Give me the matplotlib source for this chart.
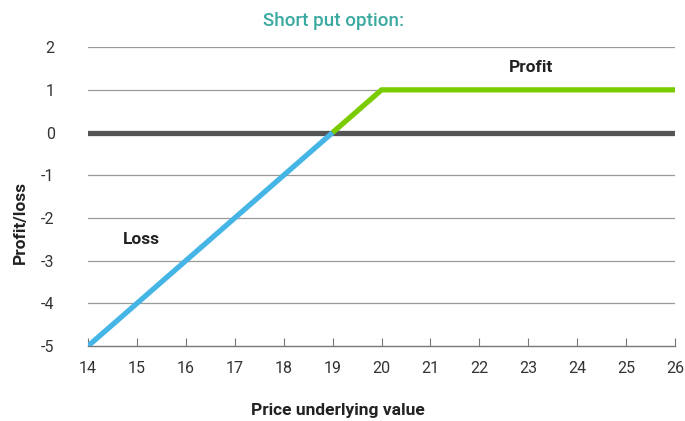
import matplotlib.pyplot as plt

plt.rcParams['font.family'] = ['Roboto', 'DejaVu Sans']
plt.rcParams['axes.unicode_minus'] = False

# payoff of a short put
loss_x = [14, 19]
loss_y = [-5, 0]
profit_x = [19, 20, 26]
profit_y = [0, 1, 1]
x_ticks = list(range(14, 27))
y_ticks = list(range(-5, 3))

blue = '#45b5e5'
green = '#7acc00'

fig = plt.figure(figsize=(6.85, 4.21), dpi=100)
ax = fig.add_axes([0.1285, 0.178, 0.857, 0.71])

for y in y_ticks:
    if y == 0:
        ax.axhline(y, color='#555555', lw=3.8, zorder=2)
    elif y != -5:
        ax.axhline(y, color='#999999', lw=0.9, zorder=1)

ax.plot(loss_x, loss_y, color=blue, lw=3.8, solid_capstyle='butt', zorder=3)
ax.plot(profit_x, profit_y, color=green, lw=3.8, solid_capstyle='butt', zorder=3)

ax.text(23.05, 1.52, 'Profit', fontsize=12.5, fontweight='bold', ha='center', va='center', color='#222222')
ax.text(15.1, -2.5, 'Loss', fontsize=12.5, fontweight='bold', ha='center', va='center', color='#222222')

ax.set_xlim(14, 26)
ax.set_ylim(-5, 2)
ax.set_xticks(x_ticks)
ax.set_yticks(y_ticks)
ax.tick_params(axis='x', direction='in', length=6, color='#777777', labelsize=11.5,
               labelcolor='#333333', pad=11)
ax.tick_params(axis='y', length=0, labelsize=11.5, labelcolor='#333333', pad=24)

for side in ['top', 'right', 'left']:
    ax.spines[side].set_visible(False)
ax.spines['bottom'].set_color('#777777')
ax.spines['bottom'].set_linewidth(1)

fig.text(338 / 685, 1 - 410 / 421, 'Price underlying value', fontsize=12.5, fontweight='bold',
         color='#222222', ha='center', va='center')
fig.text(20 / 685, 1 - 222 / 421, 'Profit/loss', fontsize=12.5, fontweight='bold',
         color='#222222', ha='center', va='center', rotation=90)
fig.text(334 / 685, 1 - 21 / 421, 'Short put option:', fontsize=13.5, fontweight='medium',
         color='#3aa99f', ha='center', va='center')

fig.savefig('out.png', dpi=100)
